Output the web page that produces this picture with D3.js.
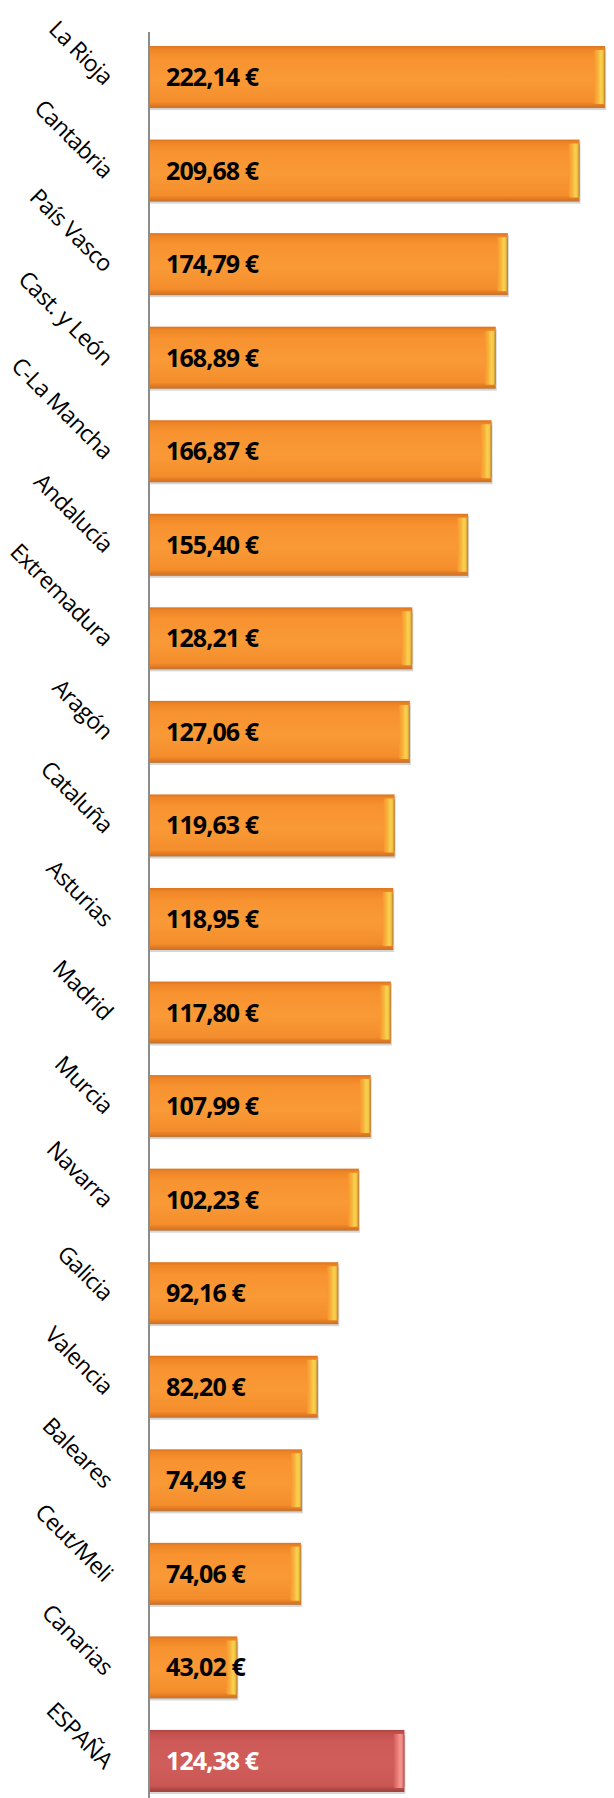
<!DOCTYPE html>
<html>
<head>
<meta charset="utf-8">
<script src="https://cdn.jsdelivr.net/npm/d3@7"></script>
<style>
  body { margin: 0; background: #fff; }
  svg { display: block; }
</style>
</head>
<body>
<div id="chart"></div>
<script>
// regions, sorted as in the picture
var regions = ['La Rioja', 'Cantabria', 'País Vasco', 'Cast. y León', 'C-La Mancha',
  'Andalucía', 'Extremadura', 'Aragón', 'Cataluña', 'Asturias', 'Madrid', 'Murcia',
  'Navarra', 'Galicia', 'Valencia', 'Baleares', 'Ceut/Meli', 'Canarias', 'ESPAÑA']
var values = [222.14, 209.68, 174.79, 168.89, 166.87, 155.40, 128.21, 127.06, 119.63,
  118.95, 117.80, 107.99, 102.23, 92.16, 82.20, 74.49, 74.06, 43.02, 124.38]
var highlight = ['ESPAÑA']

var width = 614
var height = 1798
var axisX = 149

var svg = d3.select('#chart')
  .append('svg')
  .attr('width', width)
  .attr('height', height)

var x = d3.scaleLinear().domain([0, 225]).range([axisX, 611])
var y = d3.scaleBand()
  .domain(regions)
  .range([14.5, 1823.5])
  .paddingInner(0.337)
  .paddingOuter(0.337)

var fmt = function (v) {
  return d3.format('.2f')(v).replace('.', ',') + ' €'
}

// gradients
var defs = svg.append('defs')
function vGrad (id, stops) {
  var g = defs.append('linearGradient').attr('id', id)
    .attr('x1', 0).attr('y1', 0).attr('x2', 0).attr('y2', 1)
  stops.forEach(function (s) {
    g.append('stop').attr('offset', s[0]).attr('stop-color', s[1])
  })
}
function hGrad (id, stops) {
  var g = defs.append('linearGradient').attr('id', id)
    .attr('x1', 0).attr('y1', 0).attr('x2', 1).attr('y2', 0)
  stops.forEach(function (s) {
    g.append('stop').attr('offset', s[0]).attr('stop-color', s[1])
  })
}
vGrad('orange', [[0, '#dc741f'], [0.05, '#ee8526'], [0.18, '#f7922f'], [0.55, '#f99a37'],
  [0.9, '#f48d2b'], [0.97, '#dc7520'], [1, '#b07a45']])
hGrad('orangeCap', [[0, '#f7952f'], [0.35, '#f8b23c'], [0.6, '#f7d24e'], [0.8, '#f2c445'], [1, '#b77a36']])
vGrad('red', [[0, '#ad4441'], [0.05, '#c2504c'], [0.18, '#cd5a57'], [0.55, '#d05d5a'],
  [0.9, '#c95754'], [0.97, '#ab4441'], [1, '#8a4a48']])
hGrad('redCap', [[0, '#cf5c58'], [0.35, '#e97a76'], [0.6, '#f5948f'], [0.8, '#ee8a86'], [1, '#a34a47']])

var bars = svg.append('g')
  .selectAll('g')
  .data(regions)
  .join('g')

// soft shadow
bars.append('rect')
  .attr('x', x(0) + 1)
  .attr('y', function (d) { return y(d) + 2 })
  .attr('width', function (d, i) { return x(values[i]) - x(0) })
  .attr('height', y.bandwidth())
  .attr('fill', '#999')
  .attr('opacity', 0.4)

bars.append('rect')
  .attr('x', x(0))
  .attr('y', function (d) { return y(d) })
  .attr('width', function (d, i) { return x(values[i]) - x(0) })
  .attr('height', y.bandwidth())
  .attr('fill', function (d) { return highlight.includes(d) ? 'url(#red)' : 'url(#orange)' })

// bevelled right end
bars.append('rect')
  .attr('x', function (d, i) { return x(values[i]) - 11 })
  .attr('y', function (d) { return y(d) + 4 })
  .attr('width', 11)
  .attr('height', y.bandwidth() - 8)
  .attr('rx', 2)
  .attr('fill', function (d) { return highlight.includes(d) ? 'url(#redCap)' : 'url(#orangeCap)' })

// axis line
svg.append('line')
  .attr('x1', axisX).attr('x2', axisX)
  .attr('y1', 32).attr('y2', height)
  .attr('stroke', '#8c8c8c')
  .attr('stroke-width', 2)

// value labels
bars.append('text')
  .attr('x', x(0) + 17)
  .attr('y', function (d) { return y(d) + y.bandwidth() / 2 })
  .attr('dy', '0.36em')
  .attr('font-family', 'Open Sans, sans-serif')
  .attr('font-weight', 'bold')
  .attr('font-size', 25)
  .attr('letter-spacing', -0.9)
  .attr('fill', function (d) { return highlight.includes(d) ? '#fff' : '#000' })
  .text(function (d, i) { return fmt(values[i]) })

// rotated category labels
svg.append('g')
  .selectAll('text')
  .data(regions)
  .join('text')
  .attr('transform', function (d) {
    return 'translate(103,' + (y(d) + y.bandwidth() / 2 + 9) + ') rotate(45)'
  })
  .attr('text-anchor', 'end')
  .attr('font-family', 'Open Sans, sans-serif')
  .attr('font-size', 23)
  .attr('letter-spacing', -0.6)
  .attr('fill', '#000')
  .text(function (d) { return d })
</script>
</body>
</html>
